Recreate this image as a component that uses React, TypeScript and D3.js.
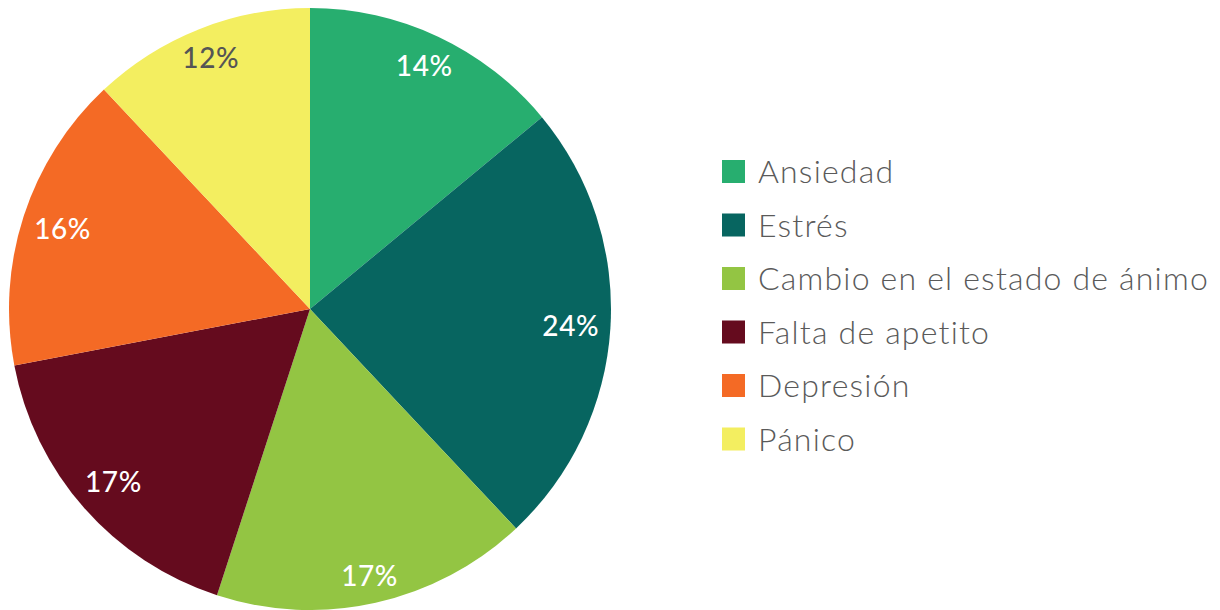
import React from "react";
import * as d3 from "d3";

const categories = ["Ansiedad", "Estrés", "Cambio en el estado de ánimo", "Falta de apetito", "Depresión", "Pánico"];
const values = [14, 24, 17, 17, 16, 12];
const colors = ["#27AE6F", "#076560", "#93C543", "#650B1E", "#F46A25", "#F3EE60"];
const labelColors = ["#ffffff", "#ffffff", "#ffffff", "#ffffff", "#ffffff", "#555555"];

export default function App() {
  const W = 1220, H = 610;
  const cx = 310, cy = 309, r = 301;
  const pie = d3.pie<number>().sort(null).value((d) => d);
  const arcs = pie(values);
  const arc = d3.arc<d3.PieArcDatum<number>>().innerRadius(0).outerRadius(r);
  const legendY = d3.scaleLinear().domain([0, categories.length - 1]).range([171.5, 439]);
  const font = "Lato, 'Open Sans', sans-serif";
  const boxW = 58, boxH = 21, reach = 291;

  // "inside end" label placement: push label box outward until its farthest corner reaches `reach`
  const labelPos = (a: d3.PieArcDatum<number>) => {
    const th = (a.startAngle + a.endAngle) / 2;
    const sx = Math.sin(th), sy = -Math.cos(th);
    let lo = 0, hi = r;
    for (let k = 0; k < 40; k++) {
      const m = (lo + hi) / 2;
      const x = m * sx, y = m * sy;
      const far = Math.hypot(Math.abs(x) + boxW / 2, Math.abs(y) + boxH / 2);
      if (far > reach) hi = m; else lo = m;
    }
    return [lo * sx, lo * sy];
  };

  return (
    <svg width={W} height={H} style={{ position: "absolute", left: 0, top: 0 }}>
      <g transform={`translate(${cx},${cy})`}>
        {arcs.map((a, i) => (
          <path key={i} d={arc(a) || ""} fill={colors[i]} />
        ))}
        {arcs.map((a, i) => {
          const [x, y] = labelPos(a);
          return (
            <text key={"l" + i} x={x} y={y} dy="0.36em" textAnchor="middle" fill={labelColors[i]}
              style={{ fontFamily: font, fontSize: 28, fontWeight: 500, letterSpacing: 0.6 }}>
              {values[i]}%
            </text>
          );
        })}
      </g>
      {categories.map((c, i) => (
        <g key={"lg" + i} transform={`translate(722,${legendY(i)})`}>
          <rect x={0} y={-11.5} width={23} height={23} fill={colors[i]} />
          <text x={36} y={11.5} fill="#5a5a5a" style={{ fontFamily: font, fontSize: 32, fontWeight: 300, letterSpacing: 1.2 }}>
            {c}
          </text>
        </g>
      ))}
    </svg>
  );
}
